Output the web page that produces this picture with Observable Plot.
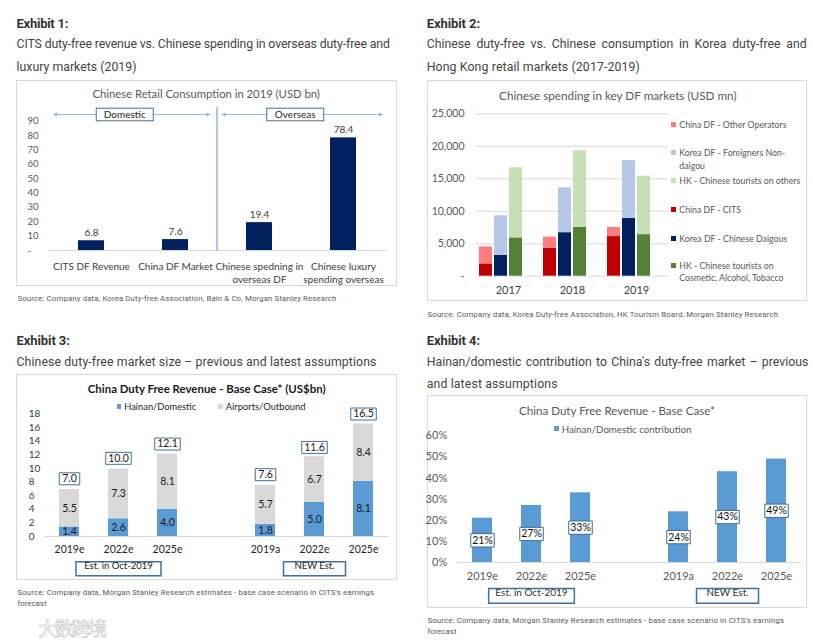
<!DOCTYPE html>
<html><head><meta charset="utf-8">
<script src="https://cdn.jsdelivr.net/npm/d3@7"></script>
<script src="https://cdn.jsdelivr.net/npm/@observablehq/plot@0.6"></script>
<style>
html,body{margin:0;padding:0;background:#fff;}
#page{position:relative;width:813px;height:642px;overflow:hidden;background:#fff;}
.box{position:absolute;border:1px solid #d9d9d9;box-sizing:border-box;}
.t{position:absolute;white-space:nowrap;line-height:1.2;}
.chart{position:absolute;}
.sw{position:absolute;}
</style></head><body><div id="page"></div>
<script>
// ===================== DATA =====================
// Exhibit 1
const p1Categories = ["CITS DF Revenue", "China DF Market", "Chinese spedning in\noverseas DF", "Chinese luxury\nspending overseas"];
const p1Values = [6.8, 7.6, 19.4, 78.4];
const p1Groups = ["Domestic", "Overseas"];
const p1YTicks = [0, 10, 20, 30, 40, 50, 60, 70, 80, 90];

// Exhibit 2
const p2Years = ["2017", "2018", "2019"];
const p2Slots = ["China DF", "Korea DF", "HK", ""];
const p2Series = ["China DF - CITS", "China DF - Other Operators", "Korea DF - Chinese Daigous", "Korea DF - Foreigners Non-daigou", "HK - Chinese tourists on Cosmetic, Alcohol, Tobacco", "HK - Chinese tourists on others"];
const p2Colors = ["#c00000", "#ff7c80", "#002060", "#b4c7e7", "#548235", "#c5e0b4"];
const p2ChinaCITS = [1900, 4300, 6100];
const p2ChinaOther = [2600, 1700, 1400];
const p2KoreaDaigou = [3200, 6700, 8900];
const p2KoreaNonDaigou = [6100, 6900, 8900];
const p2HKCosmetic = [5900, 7500, 6400];
const p2HKOthers = [10800, 11800, 9000];
const p2YTicks = [0, 5000, 10000, 15000, 20000, 25000];
const p2LegendOrder = [1, 3, 5, 0, 2, 4];
const p2LegendLines = [["China DF - Other Operators"], ["Korea DF - Foreigners Non-", "daigou"], ["HK - Chinese tourists on others"], ["China DF - CITS"], ["Korea DF - Chinese Daigous"], ["HK - Chinese tourists on", "Cosmetic, Alcohol, Tobacco"]];

// Exhibit 3
const p3Keys = ["Oct-2019 2019e", "Oct-2019 2022e", "Oct-2019 2025e", "NEW 2019a", "NEW 2022e", "NEW 2025e"];
const p3TickLabels = ["2019e", "2022e", "2025e", "2019a", "2022e", "2025e"];
const p3Parts = ["Hainan/Domestic", "Airports/Outbound"];
const p3PartColors = ["#5b9bd5", "#d9d9d9"];
const p3Hainan = [1.4, 2.6, 4.0, 1.8, 5.0, 8.1];
const p3Airports = [5.5, 7.3, 8.1, 5.7, 6.7, 8.4];
const p3Totals = [7.0, 10.0, 12.1, 7.6, 11.6, 16.5];
const p3YTicks = [0, 2, 4, 6, 8, 10, 12, 14, 16, 18];
const groupLabels = ["Est. in Oct-2019", "NEW Est."];

// Exhibit 4
const p4Share = [0.21, 0.27, 0.33, 0.24, 0.43, 0.49];
const p4YTicks = [0, 0.1, 0.2, 0.3, 0.4, 0.5, 0.6];
const p4Series = "Hainan/Domestic contribution";

// ===================== HELPERS =====================
const page = document.getElementById("page");
const texts = [];
function label(text, o) {
  const el = document.createElement("div");
  el.className = "t";
  el.textContent = text;
  el.style.fontFamily = o.font || "Roboto";
  el.style.fontWeight = o.weight || 400;
  el.style.color = o.color || "#404040";
  if (o.css) el.style.cssText += o.css;
  page.appendChild(el);
  texts.push({el, o});
  return el;
}
function layoutTexts() {
  for (const {el, o} of texts) {
    let fs = o.size || 12;
    if (o.sameAs) fs = o.sameAs._fs;
    el.style.fontSize = fs + "px";
    el.style.letterSpacing = "0px";
    el.style.wordSpacing = "0px";
    if (o.width && !o.sameAs) {
      const w = el.getBoundingClientRect().width;
      if (o.mode === "fs") { fs = fs * o.width / w; el.style.fontSize = fs + "px"; }
      else if (o.mode === "ws") { const n = (el.textContent.match(/ /g) || []).length; el.style.wordSpacing = ((o.width - w) / n) + "px"; }
      else { el.style.letterSpacing = ((o.width - w) / el.textContent.length) + "px"; }
    }
    o._fs = fs;
    const w2 = el.getBoundingClientRect().width;
    const left = o.anchor === "middle" ? o.x - w2 / 2 : o.anchor === "end" ? o.x - w2 : o.x;
    el.style.left = left + "px";
    el.style.top = "0px";
    const probe = document.createElement("span");
    probe.style.cssText = "display:inline-block;width:0;height:0;vertical-align:baseline";
    el.appendChild(probe);
    const off = probe.getBoundingClientRect().top - el.getBoundingClientRect().top;
    el.removeChild(probe);
    el.style.top = (o.y - off) + "px";
  }
}
function box(l, t, w, h) {
  const d = document.createElement("div"); d.className = "box";
  Object.assign(d.style, {left: l + "px", top: t + "px", width: w + "px", height: h + "px"});
  page.appendChild(d);
}
function swatch(l, t, s, color) {
  const d = document.createElement("div"); d.className = "sw";
  Object.assign(d.style, {left: l + "px", top: t + "px", width: s + "px", height: s + "px", background: color});
  page.appendChild(d);
}
function place(node, l, t) {
  const d = document.createElement("div"); d.className = "chart";
  d.style.left = l + "px"; d.style.top = t + "px";
  d.appendChild(node); page.appendChild(d);
}
const rectSymbol = (w, h) => ({draw(ctx) { ctx.moveTo(-w / 2, -h / 2); ctx.lineTo(w / 2, -h / 2); ctx.lineTo(w / 2, h / 2); ctx.lineTo(-w / 2, h / 2); ctx.closePath(); }});
const chartStyle = {fontFamily: "Lato, sans-serif", fontSize: "10px", background: "transparent", overflow: "visible", color: "#404040"};
const boxBlue = "#41719c";

// ===================== HEADERS =====================
const hdrColor = "#333", subColor = "#444", srcColor = "#5a5a5a";
label("Exhibit 1:", {x: 16.5, y: 28.3, size: 13, weight: 700, color: hdrColor, width: 51.6});
label("CITS duty-free revenue vs. Chinese spending in overseas duty-free and", {x: 16.5, y: 48, size: 12.3, color: subColor, width: 373.3});
label("luxury markets (2019)", {x: 16.5, y: 70.5, size: 12.3, color: subColor, width: 120});
label("Exhibit 2:", {x: 426.7, y: 28.3, size: 13, weight: 700, color: hdrColor, width: 53.3});
label("Chinese duty-free vs. Chinese consumption in Korea duty-free and", {x: 426.7, y: 48, size: 12.3, color: subColor, width: 380, mode: "ws"});
label("Hong Kong retail markets (2017-2019)", {x: 426.7, y: 70.5, size: 12.3, color: subColor, width: 213.3});
label("Exhibit 3:", {x: 16.5, y: 345, size: 13, weight: 700, color: hdrColor, width: 53.3});
label("Chinese duty-free market size \u2013 previous and latest assumptions", {x: 16.5, y: 365.5, size: 12.3, color: subColor, width: 360});
label("Exhibit 4:", {x: 426.7, y: 345, size: 13, weight: 700, color: hdrColor, width: 53.3});
label("Hainan/domestic contribution to China's duty-free market \u2013 previous", {x: 426.7, y: 365.5, size: 12.3, color: subColor, width: 381.6, mode: "ws"});
label("and latest assumptions", {x: 426.7, y: 388, size: 12.3, color: subColor, width: 131});

label("Source: Company data, Korea Duty-free Association, Bain & Co, Morgan Stanley Research", {x: 17.5, y: 301, size: 7.8, color: srcColor, width: 319});
label("Source: Company data, Korea Duty-free Association, HK Tourism Board, Morgan Stanley Research", {x: 427.5, y: 316.5, size: 7.8, color: srcColor, width: 350.6});
label("Source: Company data, Morgan Stanley Research estimates - base case scenario in CITS's earnings", {x: 17.5, y: 595.2, size: 7.8, color: srcColor, width: 356.6});
label("forecast", {x: 17.5, y: 606.2, size: 7.8, color: srcColor, width: 29});
label("Source: Company data, Morgan Stanley Research estimates - base case scenario in CITS's earnings", {x: 427.5, y: 623.2, size: 7.8, color: srcColor, width: 356.6});
label("forecast", {x: 427.5, y: 633.5, size: 7.8, color: srcColor, width: 29});

// boxes
box(16, 80, 381, 206);
box(427, 80, 380, 221);
box(16, 374, 381, 206);
box(427, 395, 380, 213);

// chart titles
label("Chinese Retail Consumption in 2019 (USD bn)", {font: "Lato", x: 206.2, y: 98, size: 12, color: "#595959", width: 227.7, mode: "fs", anchor: "middle"});
label("Chinese spending in key DF markets (USD mn)", {font: "Lato", x: 617.8, y: 100, size: 12, color: "#595959", width: 237.7, mode: "fs", anchor: "middle"});
label("China Duty Free Revenue - Base Case* (US$bn)", {font: "Lato", x: 206.7, y: 392.5, size: 12, weight: 700, color: "#1a1a1a", width: 238, mode: "fs", anchor: "middle"});
label("China Duty Free Revenue - Base Case*", {font: "Lato", x: 617, y: 415, size: 12, color: "#595959", width: 196, mode: "fs", anchor: "middle"});

// ===================== CHART 1 =====================
const p1Data = p1Categories.map((c, i) => ({cat: c, value: p1Values[i]}));
function annot1(index, scales, values, dims) {
  const x = scales.x, y = scales.y;
  const bw = x.bandwidth(), step = x.step();
  const gap = (step - bw) / 2;
  const fl = dims.marginLeft, fr = dims.width - dims.marginRight;
  const div = x(p1Categories[2]) - gap;
  const ay = 14.5;
  const g = d3.create("svg:g");
  g.append("line").attr("x1", div).attr("x2", div).attr("y1", 7).attr("y2", y(0)).attr("stroke", "#5b8fd0").attr("stroke-width", 1);
  const spans = [[fl + 5, div - 6.5, p1Groups[0]], [div + 4.5, fr - 4, p1Groups[1]]];
  for (const [a, b, t] of spans) {
    g.append("line").attr("x1", a + 3).attr("x2", b - 3).attr("y1", ay).attr("y2", ay).attr("stroke", "#8cb4e2").attr("stroke-width", 0.9);
    g.append("path").attr("d", `M${a},${ay}l4,-2v4z M${b},${ay}l-4,-2v4z`).attr("fill", "#8cb4e2");
    const cx = (a + b) / 2 - 7;
    g.append("rect").attr("x", cx - 28.5).attr("y", ay - 6.3).attr("width", 57).attr("height", 12.6).attr("fill", "white").attr("stroke", boxBlue);
    g.append("text").attr("x", cx).attr("y", ay).attr("dy", "0.35em").attr("text-anchor", "middle").attr("fill", "#262626").attr("font-size", 10).text(t);
  }
  return g.node();
}
const chart1 = Plot.plot({
  width: 379, height: 185,
  marginLeft: 31, marginRight: 9, marginTop: 20.7, marginBottom: 35,
  style: chartStyle,
  x: {domain: p1Categories, paddingInner: 0.69, paddingOuter: 0.345, axis: null},
  y: {domain: [0, 90], axis: null},
  marks: [
    Plot.ruleY([0], {stroke: "#d9d9d9"}),
    Plot.barY(p1Data, {x: "cat", y: "value", fill: "#002060"}),
    Plot.text(p1Data, {x: "cat", y: "value", text: d => d.value.toFixed(1), dy: -8, fill: "#404040", fontSize: 10}),
    Plot.axisY({ticks: p1YTicks, tickFormat: d => d === 0 ? "-" : String(d), tickSize: 0, tickPadding: 21, textAnchor: "start", color: "#595959", fontSize: 9.5, label: null}),
    Plot.axisX({tickSize: 0, tickPadding: 10, lineHeight: 1.3, color: "#404040", fontSize: 10, label: null}),
    annot1
  ]
});
place(chart1, 17, 100);

// ===================== CHART 2 =====================
const p2Rows = [];
p2Years.forEach((yr, i) => {
  p2Rows.push({year: yr, slot: p2Slots[0], series: p2Series[0], value: p2ChinaCITS[i]});
  p2Rows.push({year: yr, slot: p2Slots[0], series: p2Series[1], value: p2ChinaOther[i]});
  p2Rows.push({year: yr, slot: p2Slots[1], series: p2Series[2], value: p2KoreaDaigou[i]});
  p2Rows.push({year: yr, slot: p2Slots[1], series: p2Series[3], value: p2KoreaNonDaigou[i]});
  p2Rows.push({year: yr, slot: p2Slots[2], series: p2Series[4], value: p2HKCosmetic[i]});
  p2Rows.push({year: yr, slot: p2Slots[2], series: p2Series[5], value: p2HKOthers[i]});
});
const chart2 = Plot.plot({
  width: 240, height: 196,
  marginLeft: 48, marginRight: 0, marginTop: 8.3, marginBottom: 25.3,
  style: chartStyle,
  fx: {domain: p2Years, padding: 0, label: null},
  x: {domain: p2Slots, paddingInner: 2 / 15, paddingOuter: 0.2, axis: null},
  y: {domain: [0, 25000], axis: null, label: null},
  color: {domain: p2Series, range: p2Colors},
  marks: [
    Plot.gridY(p2YTicks, {stroke: "#d9d9d9", strokeOpacity: 1}),
    Plot.barY(p2Rows, {fx: "year", x: "slot", y: "value", fill: "series"}),
    Plot.axisY({ticks: p2YTicks, tickFormat: d => d === 0 ? "-" : d3.format(",")(d), tickSize: 0, tickPadding: 12, color: "#595959", fontSize: 10.5, label: null}),
    Plot.axisFx({anchor: "bottom", tickSize: 0, tickPadding: 10, color: "#404040", fontSize: 11, label: null})
  ]
});
place(chart2, 428, 105);
// legend 2
const legendCenters = [124.3, 152.5, 180.3, 209.5, 238.6, 265.3];
let firstLeg = null;
p2LegendOrder.forEach((si, k) => {
  const cy = legendCenters[k];
  swatch(671, cy - 2.4, 4.8, p2Colors[si]);
  p2LegendLines[k].forEach((line, j) => {
    const o = {font: "Lato", x: 679.3, y: cy + 3.2 + j * 12.8, size: 9, color: "#595959"};
    if (!firstLeg) { o.width = 107.4; o.mode = "fs"; firstLeg = o; } else o.sameAs = firstLeg;
    label(line, o);
  });
});

// ===================== CHART 3 =====================
const p3Domain = [...p3Keys.slice(0, 3), "gap", ...p3Keys.slice(3)];
const p3Rows = [];
p3Keys.forEach((k, i) => {
  p3Rows.push({key: k, part: p3Parts[0], value: p3Hainan[i]});
  p3Rows.push({key: k, part: p3Parts[1], value: p3Airports[i]});
});
const p3Tot = p3Keys.map((k, i) => ({key: k, total: p3Totals[i], text: p3Totals[i].toFixed(1)}));
const p3Groups = [{key: p3Keys[1], text: groupLabels[0]}, {key: p3Keys[4], text: groupLabels[1]}];
const tickLabel3 = d => { const i = p3Keys.indexOf(d); return i < 0 ? "" : p3TickLabels[i]; };
const chart3 = Plot.plot({
  width: 379, height: 181,
  marginLeft: 27, marginRight: 7.7, marginTop: 15.3, marginBottom: 43,
  style: chartStyle,
  x: {domain: p3Domain, paddingInner: 0.6, paddingOuter: 0.3, axis: null},
  y: {domain: [0, 18], axis: null},
  color: {domain: p3Parts, range: p3PartColors},
  marks: [
    Plot.ruleY([0], {stroke: "#d9d9d9"}),
    Plot.barY(p3Rows, {x: "key", y: "value", fill: "part"}),
    Plot.text(p3Rows, Plot.stackY({x: "key", y: "value", text: d => d.value.toFixed(1), fill: "#1a1a1a", fontSize: 10.5})),
    Plot.dot(p3Tot.filter(d => d.text.length === 3), {x: "key", y: "total", dy: -10, symbol: rectSymbol(20.5, 12), fill: "white", stroke: boxBlue, strokeWidth: 1}),
    Plot.dot(p3Tot.filter(d => d.text.length > 3), {x: "key", y: "total", dy: -10, symbol: rectSymbol(25.5, 12), fill: "white", stroke: boxBlue, strokeWidth: 1}),
    Plot.text(p3Tot, {x: "key", y: "total", dy: -10, text: "text", fill: "#1a1a1a", fontSize: 10.5}),
    Plot.axisY({ticks: p3YTicks, tickSize: 0, tickPadding: 15.7, textAnchor: "start", color: "#404040", fontSize: 10, label: null}),
    Plot.axisX({tickSize: 0, tickPadding: 9, tickFormat: tickLabel3, color: "#262626", fontSize: 10.5, label: null}),
    Plot.dot(p3Groups.slice(0, 1), {x: "key", frameAnchor: "bottom", dy: 32.3, symbol: rectSymbol(85, 14), fill: "white", stroke: boxBlue}),
    Plot.dot(p3Groups.slice(1), {x: "key", frameAnchor: "bottom", dy: 32.3, symbol: rectSymbol(62, 14), fill: "white", stroke: boxBlue}),
    Plot.text(p3Groups, {x: "key", frameAnchor: "bottom", dy: 32.3, text: "text", fill: "#1a1a1a", fontSize: 9.5})
  ]
});
place(chart3, 17, 398);
swatch(116.5, 404, 4.8, p3PartColors[0]);
label(p3Parts[0], {font: "Lato", x: 124.3, y: 409.8, size: 10, color: "#262626", width: 72, mode: "fs"});
swatch(218, 404, 4.8, p3PartColors[1]);
label(p3Parts[1], {font: "Lato", x: 225.7, y: 409.8, size: 10, color: "#262626", width: 80, mode: "fs"});

// ===================== CHART 4 =====================
const p4Rows = p3Keys.map((k, i) => ({key: k, value: p4Share[i], text: Math.round(p4Share[i] * 100) + "%"}));
const chart4 = Plot.plot({
  width: 378, height: 182,
  marginLeft: 28.7, marginRight: 4.3, marginTop: 10.3, marginBottom: 45,
  style: chartStyle,
  x: {domain: p3Domain, paddingInner: 0.594, paddingOuter: 0.297, axis: null},
  y: {domain: [0, 0.6], axis: null},
  marks: [
    Plot.ruleY([0], {stroke: "#d9d9d9"}),
    Plot.barY(p4Rows, {x: "key", y: "value", fill: "#5b9bd5"}),
    Plot.dot(p4Rows, {x: "key", y: d => d.value / 2, symbol: rectSymbol(23.5, 13.3), fill: "white", stroke: "#3f6a9a", strokeWidth: 1}),
    Plot.text(p4Rows, {x: "key", y: d => d.value / 2, text: "text", fill: "#111", fontSize: 10.5}),
    Plot.axisY({ticks: p4YTicks, tickFormat: d3.format(".0%"), tickSize: 0, tickPadding: 10, color: "#595959", fontSize: 11, label: null}),
    Plot.axisX({tickSize: 0, tickPadding: 9.5, tickFormat: tickLabel3, color: "#595959", fontSize: 11, label: null}),
    Plot.dot(p3Groups.slice(0, 1), {x: "key", frameAnchor: "bottom", dy: 33.3, symbol: rectSymbol(85.7, 14.7), fill: "white", stroke: boxBlue}),
    Plot.dot(p3Groups.slice(1), {x: "key", frameAnchor: "bottom", dy: 33.3, symbol: rectSymbol(62, 14.7), fill: "white", stroke: boxBlue}),
    Plot.text(p3Groups, {x: "key", frameAnchor: "bottom", dy: 33.3, text: "text", fill: "#333", fontSize: 10})
  ]
});
place(chart4, 428, 425);
swatch(554, 426.4, 4.8, "#5b9bd5");
label(p4Series, {font: "Lato", x: 561.7, y: 432.5, size: 10, color: "#595959", width: 130, mode: "fs"});

// watermark
label("\u5927\u6570\u8de8\u5883", {font: "Noto Sans CJK SC", x: 38, y: 636, size: 19, color: "rgba(255,255,255,0.5)", width: 67, css: "-webkit-text-stroke:0.6px #c4c4c4;"});

layoutTexts();
if (document.fonts && document.fonts.ready) document.fonts.ready.then(layoutTexts);
</script></body></html>
